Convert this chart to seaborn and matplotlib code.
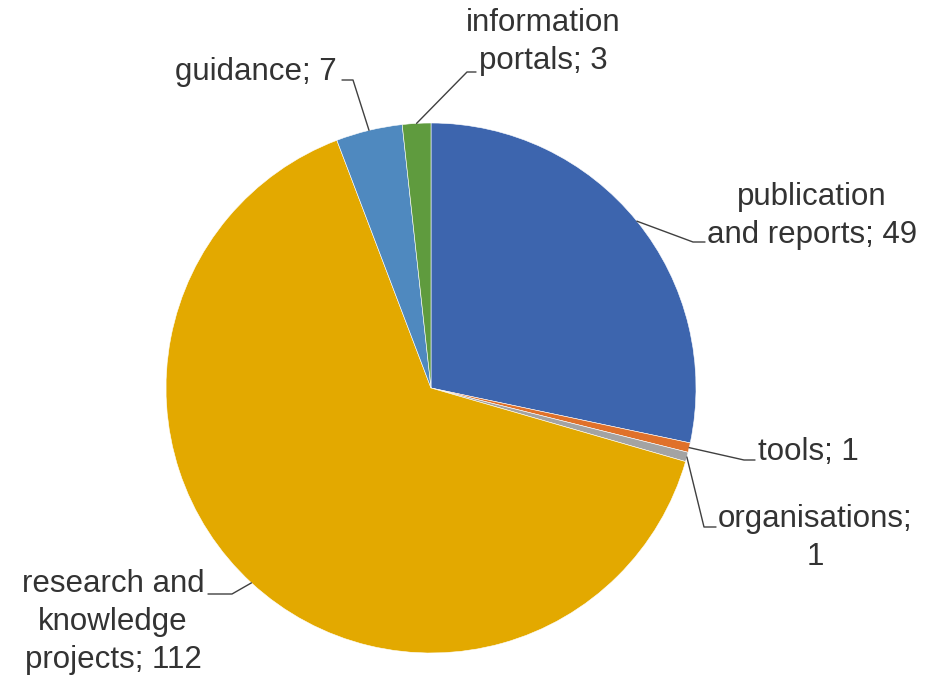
import numpy as np
import seaborn as sns
import matplotlib.pyplot as plt

# data
labels = ["publication\nand reports; 49", "tools; 1", "organisations;\n1",
          "research and\nknowledge\nprojects; 112", "guidance; 7", "information\nportals; 3"]
counts = [49, 1, 1, 112, 7, 3]
colors = ["#3D65AE", "#E0712A", "#A3A3A3", "#E3A900", "#4F89BF", "#5F9B3E"]

sns.set_style("white")
plt.rcParams["font.family"] = ["Liberation Sans", "DejaVu Sans"]

fig = plt.figure(figsize=(9.43, 6.8), dpi=100)
ax = fig.add_axes([0, 0, 1, 1])

cx, cy, r = 431, 680 - 388, 265
wedges, _ = ax.pie(counts, colors=colors, startangle=90, counterclock=False,
                   center=(cx, cy), radius=r, frame=True,
                   wedgeprops=dict(linewidth=0.4, edgecolor="white"))
ax.set_xlim(0, 943)
ax.set_ylim(0, 680)
ax.set_aspect("equal")
ax.axis("off")

# label layout (pixel coords, y down): text centre, elbow, end of the leader
layout = [
    dict(text=(812, 216), elbow=(693, 242), end=(705, 242)),
    dict(text=(808, 452), elbow=(744, 460), end=(755, 460)),
    dict(text=(815, 538), elbow=(704, 527), end=(716, 527)),
    dict(text=(113, 622), elbow=(232, 594), end=(208, 594)),
    dict(text=(256, 72), elbow=(353, 80), end=(342, 80)),
    dict(text=(543, 42), elbow=(467, 72), end=(476, 72)),
]

for w, lab, lay in zip(wedges, labels, layout):
    mid = np.deg2rad((w.theta1 + w.theta2) / 2)
    ex, ey = cx + r * np.cos(mid), cy + r * np.sin(mid)
    (bx, by), (dx, dy) = lay["elbow"], lay["end"]
    ax.plot([ex, bx, dx], [ey, 680 - by, 680 - dy], color="#404040", lw=1.0)
    tx, ty = lay["text"]
    ax.text(tx, 680 - ty, lab, ha="center", va="center",
            fontsize=22.5, color="#333333", linespacing=1.35)

fig.savefig("out.png", dpi=100)
